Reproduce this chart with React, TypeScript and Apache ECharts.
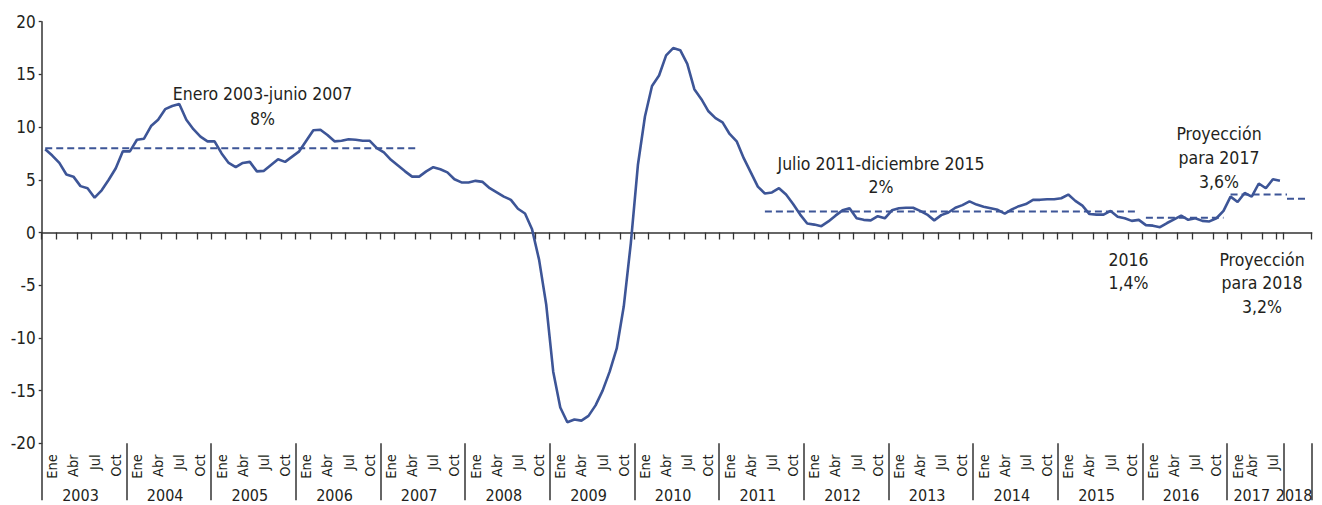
import React, { useEffect, useRef } from "react";
import * as echarts from "echarts";

// ---------- data ----------
const years = [2003, 2004, 2005, 2006, 2007, 2008, 2009, 2010, 2011, 2012, 2013, 2014, 2015, 2016, 2017, 2018];
const monthsInYear = [12, 12, 12, 12, 12, 12, 12, 12, 12, 12, 12, 12, 12, 12, 8, 4];
const monthNames = ["Ene", "Feb", "Mar", "Abr", "May", "Jun", "Jul", "Ago", "Sep", "Oct", "Nov", "Dic"];
const labelledMonths = [0, 3, 6, 9];
const tickMonths = [0, 2, 5, 7, 10];

const v2003 = [7.9, 7.3, 6.6, 5.5, 5.3, 4.4, 4.2, 3.3, 4.0, 5.0, 6.1, 7.7];
const v2004 = [7.7, 8.8, 8.9, 10.1, 10.7, 11.7, 12.0, 12.2, 10.7, 9.8, 9.1, 8.65];
const v2005 = [8.65, 7.5, 6.6, 6.2, 6.6, 6.7, 5.8, 5.85, 6.4, 6.95, 6.7, 7.2];
const v2006 = [7.7, 8.7, 9.7, 9.75, 9.25, 8.65, 8.7, 8.85, 8.8, 8.7, 8.7, 8.0];
const v2007 = [7.6, 6.9, 6.35, 5.8, 5.3, 5.3, 5.8, 6.2, 6.0, 5.7, 5.05, 4.75];
const v2008 = [4.75, 4.9, 4.8, 4.2, 3.8, 3.4, 3.1, 2.25, 1.8, 0.3, -2.6, -6.8];
const v2009 = [-13.2, -16.6, -18.0, -17.75, -17.85, -17.4, -16.4, -15.0, -13.2, -11.0, -7.0, -1.0];
const v2010 = [6.4, 11.0, 13.9, 14.9, 16.8, 17.5, 17.3, 16.0, 13.6, 12.65, 11.5, 10.85];
const v2011 = [10.45, 9.35, 8.65, 7.05, 5.7, 4.35, 3.7, 3.8, 4.2, 3.6, 2.7, 1.7];
const v2012 = [0.85, 0.75, 0.6, 1.05, 1.6, 2.1, 2.3, 1.35, 1.2, 1.15, 1.55, 1.35];
const v2013 = [2.1, 2.3, 2.35, 2.35, 2.05, 1.7, 1.15, 1.65, 1.9, 2.35, 2.6, 2.95];
const v2014 = [2.65, 2.45, 2.3, 2.15, 1.8, 2.2, 2.5, 2.7, 3.1, 3.1, 3.15, 3.15];
const v2015 = [3.25, 3.6, 3.0, 2.55, 1.75, 1.7, 1.7, 2.05, 1.5, 1.35, 1.1, 1.2];
const v2016 = [0.7, 0.65, 0.5, 0.9, 1.25, 1.6, 1.2, 1.35, 1.1, 1.05, 1.35, 2.05];
const v2017 = [3.4, 2.9, 3.75, 3.4, 4.65, 4.2, 5.05, 4.9];

const periodStart = ["2003-01", "2011-07", "2016-01", "2017-01", "2018-01"];
const periodEnd = ["2007-06", "2015-12", "2016-12", "2018-01", "2018-04"];
const periodValue = [8, 2, 1.4, 3.6, 3.2];

const yTickMin = -20;
const yTickMax = 20;
const yTickStep = 5;

const annotationTexts = [
  ["Enero 2003-junio 2007", "8%"],
  ["Julio 2011-diciembre 2015", "2%"],
  ["Proyección", "para 2017", "3,6%"],
  ["2016", "1,4%"],
  ["Proyección", "para 2018", "3,2%"],
];

// ---------- derived ----------
const categories: string[] = [];
const catYearIdx: number[] = [];
const catMonth: number[] = [];
years.forEach((y, yi) => {
  for (let m = 0; m < monthsInYear[yi]; m++) {
    categories.push(`${y}-${String(m + 1).padStart(2, "0")}`);
    catYearIdx.push(yi);
    catMonth.push(m);
  }
});
const observed = [
  ...v2003, ...v2004, ...v2005, ...v2006, ...v2007, ...v2008, ...v2009, ...v2010,
  ...v2011, ...v2012, ...v2013, ...v2014, ...v2015, ...v2016, ...v2017,
];
const mainData = categories.map((_, i) => (i < observed.length ? observed[i] : null));

const yearStartIdx: number[] = [];
{
  let acc = 0;
  monthsInYear.forEach((n) => {
    yearStartIdx.push(acc);
    acc += n;
  });
}

// month label slot: labels sit one category to the right (as in the source),
// except in the shortened final year where they are packed tighter
const monthLabelAt: Record<number, string> = {};
categories.forEach((_, i) => {
  const yi = catYearIdx[i];
  const m = catMonth[i];
  if (years[yi] >= 2018 || !labelledMonths.includes(m)) return;
  const shift = monthsInYear[yi] === 12 || m === 0 ? 1 : 0;
  monthLabelAt[i + shift] = monthNames[m];
});

const FONT = "'Liberation Sans Narrow', 'Arial Narrow', 'DejaVu Sans Condensed', 'Roboto Condensed', sans-serif";
const BLUE = "#3d5597";
const TEXT = "#231f20";
const AXIS = "#333333";

// annotation layout (pixel centres of each line)
const annotationLayout = [
  { x: 262.5, y: 94, gap: 25 },
  { x: 881, y: 163.5, gap: 23 },
  { x: 1219, y: 134, gap: 24 },
  { x: 1128.5, y: 259.5, gap: 23 },
  { x: 1262, y: 259.5, gap: 23.5 },
];

export default function App() {
  const ref = useRef<HTMLDivElement>(null);

  useEffect(() => {
    if (!ref.current) return;
    const chart = echarts.init(ref.current, undefined, { renderer: "svg" });

    const periodSeries = periodValue.map((val, k) => {
      const s = categories.indexOf(periodStart[k]);
      const e = categories.indexOf(periodEnd[k]);
      return {
        type: "line",
        name: `media${k}`,
        xAxisIndex: 0,
        yAxisIndex: 0,
        data: categories.map((_, i) => (i >= s && i <= e ? val : null)),
        showSymbol: false,
        symbol: "none",
        silent: true,
        z: 2,
        lineStyle: { color: BLUE, width: 2, type: [7, 4] },
      };
    });

    const graphics: any[] = [];
    annotationTexts.forEach((lines, k) => {
      const lay = annotationLayout[k];
      lines.forEach((t, j) => {
        graphics.push({
          type: "text",
          x: lay.x,
          y: lay.y + j * lay.gap,
          silent: true,
          style: {
            text: t,
            fill: TEXT,
            fontSize: 17.5,
            fontFamily: FONT,
            align: "center",
            verticalAlign: "middle",
          },
        });
      });
    });

    chart.setOption({
      animation: false,
      backgroundColor: "#ffffff",
      grid: {
        left: 41.7,
        right: 10.3,
        top: 21.7,
        bottom: 61.7,
        containLabel: false,
        outerBoundsMode: "none",
      },
      xAxis: [
        {
          type: "category",
          data: categories,
          position: "bottom",
          boundaryGap: true,
          axisLine: { show: true, onZero: true, lineStyle: { color: AXIS, width: 1.5 } },
          axisTick: {
            show: true,
            length: 7,
            interval: (i: number) => {
              const yi = catYearIdx[i];
              const m = catMonth[i];
              return years[yi] < 2018 ? tickMonths.includes(m) : m === 0;
            },
            lineStyle: { color: AXIS, width: 1.3 },
          },
          axisLabel: { show: false },
          splitLine: { show: false },
        },
        {
          type: "category",
          data: categories,
          position: "bottom",
          boundaryGap: true,
          axisLine: { show: false, onZero: false },
          axisTick: {
            show: true,
            length: 57,
            interval: (i: number) => catMonth[i] === 0,
            lineStyle: { color: AXIS, width: 1.5 },
          },
          axisLabel: {
            show: true,
            rotate: 90,
            margin: 11,
            fontSize: 14.5,
            fontFamily: FONT,
            color: TEXT,
            showMinLabel: true,
            showMaxLabel: true,
            interval: (i: number) => monthLabelAt[i] !== undefined,
            formatter: (_v: string, i: number) => monthLabelAt[i] ?? "",
          },
          splitLine: { show: false },
        },
        {
          type: "category",
          data: categories,
          position: "bottom",
          boundaryGap: true,
          axisLine: { show: false, onZero: false },
          axisTick: { show: false },
          axisLabel: {
            show: true,
            margin: 45,
            fontSize: 16,
            lineHeight: 14,
            fontFamily: FONT,
            color: TEXT,
            showMinLabel: true,
            showMaxLabel: true,
            interval: (i: number) => {
              const yi = catYearIdx[i];
              return i === yearStartIdx[yi] + monthsInYear[yi] / 2 - 1;
            },
            formatter: (_v: string, i: number) => String(years[catYearIdx[i]]),
          },
          splitLine: { show: false },
        },
      ],
      yAxis: {
        type: "value",
        min: yTickMin,
        max: yTickMax,
        interval: yTickStep,
        axisLine: { show: true, onZero: false, lineStyle: { color: AXIS, width: 1.5 } },
        axisTick: { show: true, length: 3, lineStyle: { color: AXIS, width: 1.3 } },
        axisLabel: { show: true, margin: 6, fontSize: 17, fontFamily: FONT, color: TEXT },
        splitLine: { show: false },
      },
      series: [
        {
          type: "line",
          name: "variación",
          xAxisIndex: 0,
          yAxisIndex: 0,
          data: mainData,
          showSymbol: false,
          symbol: "none",
          silent: true,
          z: 3,
          lineStyle: { color: BLUE, width: 2.6 },
        },
        ...periodSeries,
      ],
      graphic: graphics,
    });

    return () => chart.dispose();
  }, []);

  return (
    <div
      ref={ref}
      style={{ position: "absolute", left: 0, top: 0, width: 1322, height: 505 }}
    />
  );
}
